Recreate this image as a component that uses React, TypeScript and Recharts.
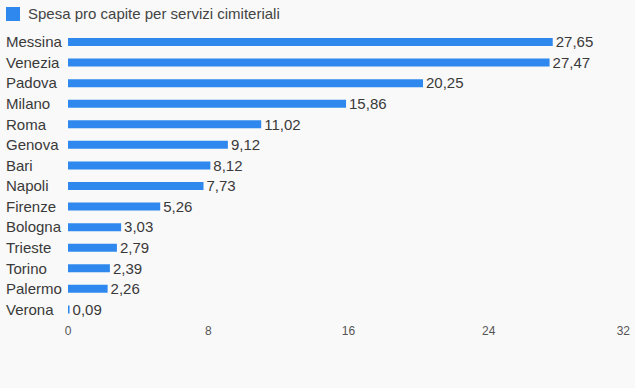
import React from 'react'
import { BarChart, Bar, XAxis, YAxis, LabelList } from 'recharts'

const cities = [
  'Messina', 'Venezia', 'Padova', 'Milano', 'Roma', 'Genova', 'Bari',
  'Napoli', 'Firenze', 'Bologna', 'Trieste', 'Torino', 'Palermo', 'Verona',
]
const spesa = [
  27.65, 27.47, 20.25, 15.86, 11.02, 9.12, 8.12,
  7.73, 5.26, 3.03, 2.79, 2.39, 2.26, 0.09,
]
const xTicks = [0, 8, 16, 24, 32]

const SERIES = 'Spesa pro capite per servizi cimiteriali'
const BLUE = '#2f88ee'
const FONT = '"Liberation Sans", Arial, sans-serif'

const data = cities.map((city, i) => ({ city, value: spesa[i] }))

const fmt = (v: number) => v.toFixed(2).replace('.', ',')

const CityTick = ({ y, payload }: any) => (
  <text x={6} y={y} dy={5} fontSize={15} fill="#3a3a3a" fontFamily={FONT} textAnchor="start">
    {payload.value}
  </text>
)

const ValueTick = ({ x, y, payload }: any) => {
  const last = payload.value === 32
  return (
    <text
      x={last ? x + 1 : x}
      y={y}
      dy={7}
      fontSize={12}
      fill="#555"
      fontFamily={FONT}
      textAnchor={last ? 'end' : 'middle'}
    >
      {payload.value}
    </text>
  )
}

export default function App() {
  return (
    <div
      style={{
        position: 'fixed',
        top: 0,
        left: 0,
        width: 635,
        height: 388,
        background: '#f9f9f9',
        fontFamily: FONT,
      }}
    >
      <div style={{ position: 'absolute', top: 5, left: 6, display: 'flex', alignItems: 'center' }}>
        <span style={{ width: 14, height: 14, background: BLUE, display: 'inline-block' }} />
        <span style={{ marginLeft: 8, fontSize: 15, color: '#444' }}>{SERIES}</span>
      </div>
      <BarChart
        width={635}
        height={388}
        data={data}
        layout="vertical"
        margin={{ top: 32, right: 6, bottom: 58, left: 0 }}
        barCategoryGap={0}
      >
        <XAxis
          type="number"
          domain={[0, 32]}
          ticks={xTicks}
          axisLine={false}
          tickLine={false}
          tick={<ValueTick />}
          tickMargin={2}
          height={10}
          interval={0}
        />
        <YAxis
          type="category"
          dataKey="city"
          width={68}
          axisLine={false}
          tickLine={false}
          tick={<CityTick />}
          interval={0}
        />
        <Bar dataKey="value" name={SERIES} fill={BLUE} barSize={8} isAnimationActive={false}>
          <LabelList
            dataKey="value"
            position="right"
            offset={3}
            formatter={(v: any) => fmt(Number(v))}
            style={{ fontSize: 15, fill: '#3a3a3a', fontFamily: FONT }}
          />
        </Bar>
      </BarChart>
    </div>
  )
}
